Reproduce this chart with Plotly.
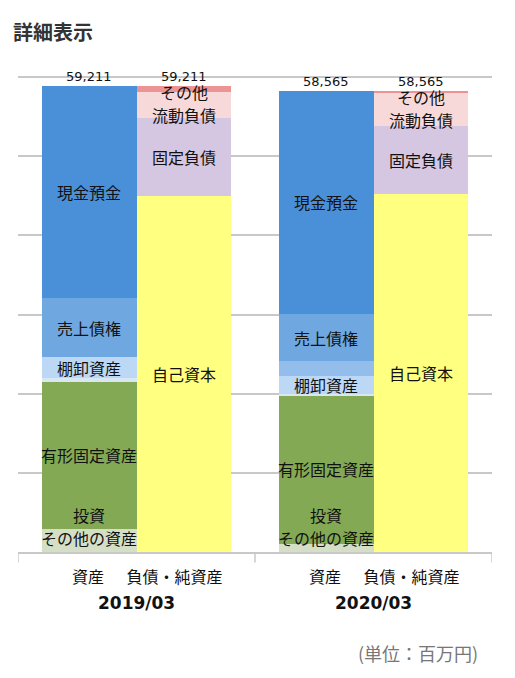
import plotly.graph_objects as go

# 決算期と左右の区分
periods = ["2019/03", "2020/03"]
sides = ["資産", "負債・純資産"]
totals = [59211, 58565]

# 資産 (下から積み上げ順)  単位: 百万円
asset_names = ["その他の資産", "投資", "有形固定資産", "その他流動資産",
               "棚卸資産", "有価証券", "売上債権", "現金預金"]
asset_shown = [True, True, True, False, True, False, True, True]
asset_2019 = [2921, 250, 18420, 500, 2660, 0, 7480, 26980]
asset_2020 = [1100, 250, 18425, 340, 2200, 1900, 6050, 28300]
asset_colors = ["#d4dfc6", "#84a955", "#84a955", "#d9e7f5",
                "#bcd8f4", "#93bdea", "#6fa8e0", "#4a90d9"]

# 負債・純資産 (下から積み上げ順)
liab_names = ["自己資本", "固定負債", "流動負債", "その他"]
liab_2019 = [45251, 9900, 3300, 760]
liab_2020 = [45405, 8760, 4250, 150]
liab_colors = ["#ffff80", "#d5c6e2", "#f8d9d9", "#ec9393"]

JP = "Noto Sans CJK JP, sans-serif"
NUM = "DejaVu Sans, Verdana, sans-serif"
y_max = 60300
bar_w = 0.4
x_pos = [0.3, 0.7]          # 各期内での資産 / 負債・純資産 の位置
label_gap = 2900            # ラベル同士の最小間隔
label_lo = 1800
label_top_pad = 800

fig = go.Figure()


def add_stack(names, v19, v20, colors, side):
    for name, a, b, c in zip(names, v19, v20, colors):
        fig.add_trace(go.Bar(
            x=[g + x_pos[side] for g in range(len(periods))],
            y=[a, b],
            width=bar_w,
            name=name,
            marker=dict(color=c, line=dict(width=0)),
            showlegend=False,
            hovertemplate=name + ": %{y:,}<extra></extra>",
        ))


def place_labels(centers, total):
    # 重なり回避: 下から押し上げ、上から押し下げ
    ys = list(centers)
    for i in range(len(ys)):
        lo = label_lo if i == 0 else ys[i - 1] + label_gap
        ys[i] = max(ys[i], lo)
    for i in reversed(range(len(ys))):
        hi = total - label_top_pad if i == len(ys) - 1 else ys[i + 1] - label_gap
        ys[i] = min(ys[i], hi)
    return ys


def add_labels(names, values, shown, x, total):
    centers, texts, base = [], [], 0
    for n, v, s in zip(names, values, shown):
        if s:
            centers.append(base + v / 2)
            texts.append(n)
        base += v
    for t, y in zip(texts, place_labels(centers, total)):
        fig.add_annotation(x=x, y=y, text=t, showarrow=False, yanchor="middle",
                           font=dict(family=JP, size=16, color="#111"))


add_stack(asset_names, asset_2019, asset_2020, asset_colors, 0)
add_stack(liab_names, liab_2019, liab_2020, liab_colors, 1)

for g, (a_vals, l_vals) in enumerate([(asset_2019, liab_2019), (asset_2020, liab_2020)]):
    add_labels(asset_names, a_vals, asset_shown, g + x_pos[0], totals[g])
    add_labels(liab_names, l_vals, [True] * len(liab_names), g + x_pos[1], totals[g])
    for side in range(2):
        fig.add_annotation(x=g + x_pos[side], y=totals[g], text=f"{totals[g]:,}",
                           showarrow=False, yanchor="bottom", yshift=0,
                           font=dict(family=NUM, size=13, color="#111"))
    fig.add_annotation(x=g + 0.5, xref="x", y=-0.107, yref="paper", text=periods[g],
                       showarrow=False, yanchor="middle",
                       font=dict(family=NUM, size=17, color="#111", weight="bold"))

# 期の区切り線
for g in range(len(periods) + 1):
    fig.add_shape(type="line", x0=g, x1=g, xref="x", y0=0, y1=-0.022, yref="paper",
                  line=dict(color="#c8c8c8", width=1.5))

fig.add_annotation(x=0.9747, xref="paper", y=-0.2122, yref="paper", text="(単位：百万円)",
                   showarrow=False, xanchor="right", yanchor="middle",
                   font=dict(family=JP, size=18, color="#777"))

# ページ本体の余白 (8px) を見込んだサイズ
fig.update_layout(
    width=507, height=670,
    margin=dict(l=10, r=23, t=68, b=126),
    barmode="stack",
    plot_bgcolor="white", paper_bgcolor="white",
    title=dict(text="詳細表示", x=0.0099, xanchor="left", y=0.9627, yanchor="middle",
               font=dict(family=JP, size=20, color="#333", weight="bold")),
    xaxis=dict(range=[0, len(periods)], showgrid=False, zeroline=False, ticks="",
               showline=True, linecolor="#c8c8c8", linewidth=1.5,
               tickvals=[g + o for g in range(len(periods)) for o in (0.295, 0.66)],
               ticktext=sides * len(periods), ticklabelstandoff=10,
               tickfont=dict(family=JP, size=16, color="#111")),
    yaxis=dict(range=[0, y_max * 1.0025], tickvals=[y_max * i / 6 for i in range(7)],
               showticklabels=False, showgrid=True, gridcolor="#c8c8c8", gridwidth=1.5,
               zeroline=False),
)

fig.write_html("out.html")
